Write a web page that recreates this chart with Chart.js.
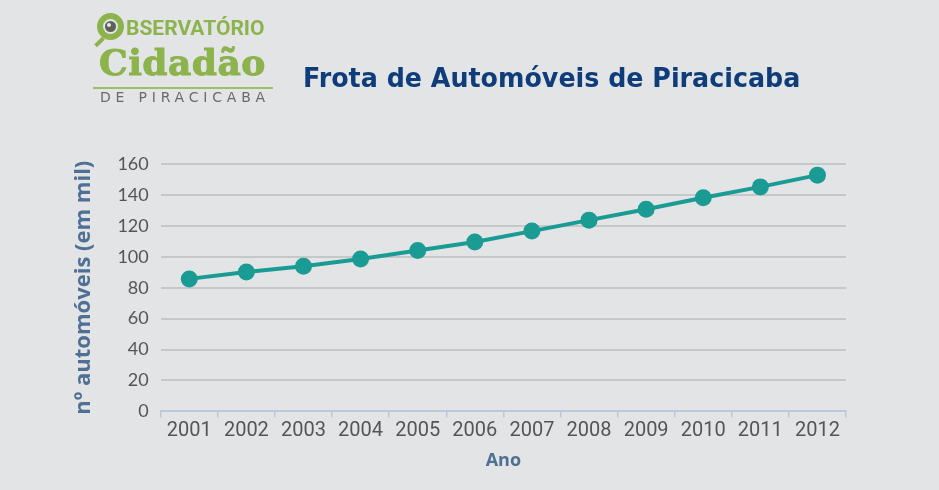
<!DOCTYPE html>
<html>
<head>
<meta charset="utf-8">
<script src="https://cdn.jsdelivr.net/npm/chart.js@4"></script>
<style>
  body { margin: 0; background: #e3e4e6; }
  #wrap { position: relative; width: 939px; height: 490px; background: #e3e4e6; overflow: hidden; }
  #frota { position: absolute; left: 0; top: 0; }
  .logo1 { position: absolute; left: 126px; top: 16px; font: bold 21px "Liberation Sans Narrow", "Roboto", sans-serif; color: #8cb34c; }
  .lupa { position: absolute; left: 97px; top: 13px; width: 21px; height: 21px; border-radius: 50%; background: #8cb34c; border: 3px solid #8cb34c; }
  .lupa i { position: absolute; left: 3px; top: 3px; width: 15px; height: 15px; border-radius: 50%; background: #5d6258; border: 2px solid #e3e4e6; box-sizing: border-box; }
  .lupa b { position: absolute; left: 7px; top: 7px; width: 4px; height: 4px; border-radius: 50%; background: #e8e8e8; }
  .cabo { position: absolute; left: 94px; top: 40px; width: 11px; height: 4px; background: #8cb34c; transform: rotate(-45deg); }
  .logo2 { position: absolute; left: 99px; top: 41px; font: bold 36px "DejaVu Serif", serif; color: #8cb34c; letter-spacing: 0.5px; -webkit-text-stroke: 1px #8cb34c; }
  .linha { position: absolute; left: 93px; top: 87px; width: 180px; height: 2px; background: #9cc064; }
  .logo3 { position: absolute; left: 100px; top: 89px; font: 14px "DejaVu Sans", sans-serif; color: #6a6a6a; letter-spacing: 4.8px; }
  .titulo { position: absolute; left: 303px; top: 63px; font: bold 26px "DejaVu Sans", sans-serif; color: #0e3d7a; white-space: nowrap; transform: scaleX(0.975); transform-origin: left top; }
</style>
</head>
<body>
<div id="wrap">
  <canvas id="frota" width="939" height="490"></canvas>
  <div class="lupa"><i></i><b></b></div>
  <div class="cabo"></div>
  <div class="logo1">BSERVATÓRIO</div>
  <div class="logo2">Cidadão</div>
  <div class="linha"></div>
  <div class="logo3">DE PIRACICABA</div>
  <div class="titulo">Frota de Automóveis de Piracicaba</div>
</div>
<script>
const anos = ["2001", "2002", "2003", "2004", "2005", "2006", "2007", "2008", "2009", "2010", "2011", "2012"];
const automoveis = [85.7, 90.2, 93.9, 98.6, 104, 109.5, 116.6, 123.7, 130.7, 138.2, 145.2, 152.8];

const ctx = document.getElementById("frota");
const chart = new Chart(ctx, {
  type: "line",
  data: {
    labels: anos,
    datasets: [
      {
        label: "Automóveis",
        data: automoveis,
        borderColor: "#1a9b94",
        backgroundColor: "#1a9b94",
        borderWidth: 4,
        pointRadius: 6.5,
        pointHoverRadius: 6.5,
        tension: 0
      }
    ]
  },
  options: {
    responsive: false,
    animation: false,
    layout: { padding: { top: 164, right: 93, left: 67, bottom: 14 } },
    plugins: { legend: { display: false }, tooltip: { enabled: false } },
    scales: {
      x: {
        offset: true,
        grid: { offset: true, drawOnChartArea: false, drawTicks: true, tickLength: 6, color: "#b9c9d9", lineWidth: 1.5 },
        border: { color: "#b9c9d9", width: 2 },
        ticks: { color: "#555", font: { family: "'Liberation Sans Narrow', Roboto, sans-serif", size: 20 }, padding: 2 },
        title: { display: true, text: "Ano", color: "#4f6f94", font: { family: "'Open Sans', sans-serif", size: 18, weight: "bold" }, padding: { top: 5 } }
      },
      y: {
        min: 0,
        max: 160,
        ticks: { stepSize: 20, color: "#555", font: { family: "Lato, sans-serif", size: 18 }, padding: 12 },
        grid: { color: "#c6c7c9", lineWidth: 2, drawTicks: false },
        border: { display: false },
        title: { display: true, text: "nº automóveis (em mil)", color: "#4f6f94", font: { family: "'Open Sans', sans-serif", size: 22, weight: "bold" }, padding: { bottom: 8 } }
      }
    }
  }
});
</script>
</body>
</html>
